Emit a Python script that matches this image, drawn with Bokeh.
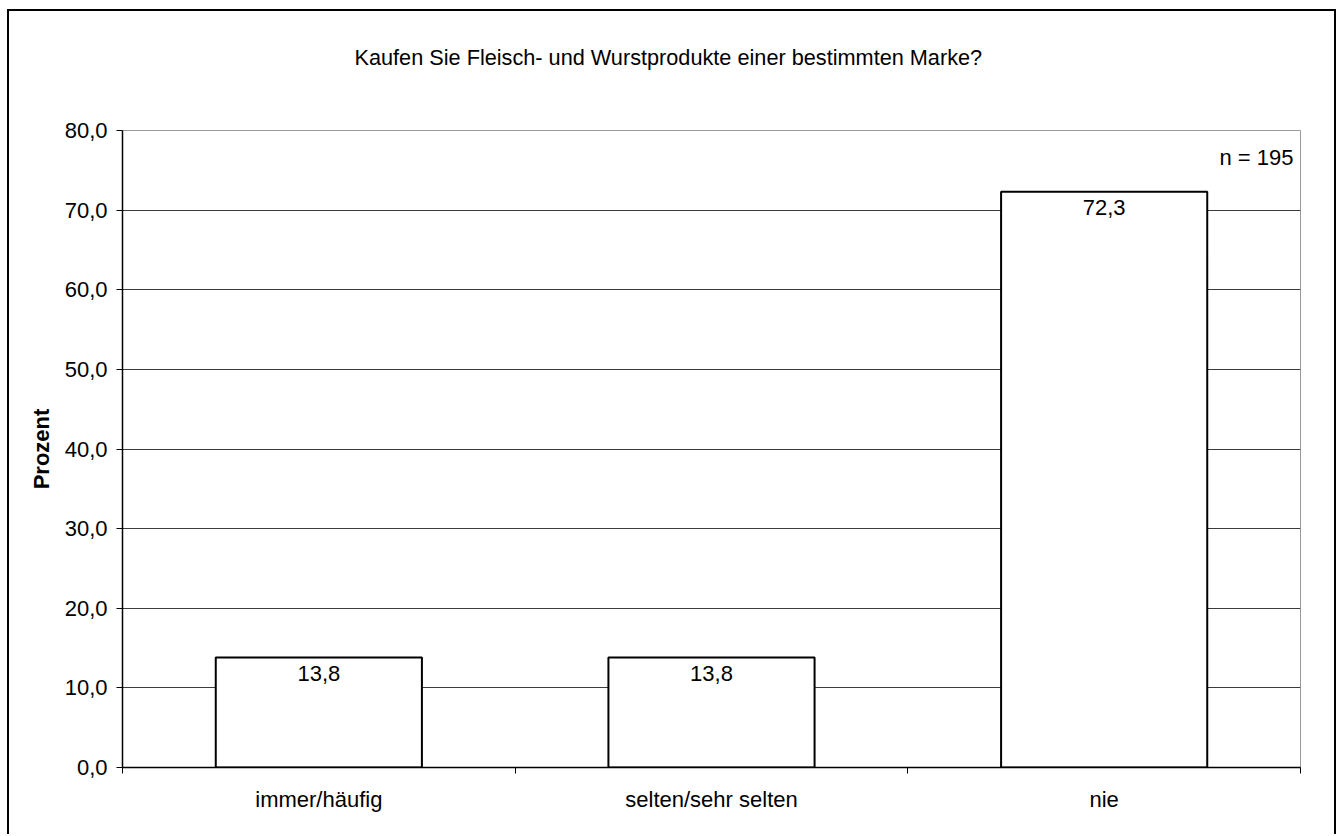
from bokeh.plotting import figure
from bokeh.models import (Range1d, FixedTicker, CustomJSTickFormatter, LabelSet, Label,
                          ColumnDataSource, Title)
from bokeh.core.properties import value
from bokeh.embed import file_html
from bokeh.resources import INLINE

# --- data -------------------------------------------------------------
title_text = "Kaufen Sie Fleisch- und Wurstprodukte einer bestimmten Marke?"
categories = ["immer/häufig", "selten/sehr selten", "nie"]
percent = [13.8, 13.8, 72.3]
y_ticks = [0, 10, 20, 30, 40, 50, 60, 70, 80]
y_label = "Prozent"
sample_note = "n = 195"

FONT = "Liberation Sans"
FS = "22px"

n = len(categories)
centers = [i + 0.5 for i in range(n)]
bounds = list(range(n + 1))
value_text = [f"{v:.1f}".replace(".", ",") for v in percent]

src = ColumnDataSource(dict(x=centers, value=percent, label=value_text, cat=categories))

# chart sits in a box framed on the left, top and right
p = figure(width=1329, height=825, output_backend="svg", toolbar_location=None,
           x_range=Range1d(0, n), y_range=Range1d(y_ticks[0], y_ticks[-1]),
           min_border_left=113, min_border_right=38, min_border_top=119, min_border_bottom=69,
           styles={"border-left": "2px solid black", "border-top": "2px solid black",
                   "border-right": "2px solid black",
                   "margin-left": "7px", "margin-top": "9px"})
p.background_fill_color = "white"
p.border_fill_color = "white"
p.outline_line_color = "#9a9a9a"
p.outline_line_width = 1

# title
p.title.text = title_text
p.title.align = "left"
p.title.offset = 232
p.title.standoff = 10
p.title.text_font = FONT
p.title.text_font_size = "21.7px"
p.title.text_font_style = "normal"
p.title.text_color = "black"

# blank band keeping the title well clear of the plot area
p.add_layout(Title(text=" ", text_font_size="1px", standoff=53), "above")

# bars
p.vbar(x="x", top="value", bottom=0, width=0.525, source=src,
       fill_color="white", line_color="black", line_width=2)

# value labels just inside the top of each bar
p.add_layout(LabelSet(x="x", y="value", text="label", source=src,
                      text_align="center", text_baseline="top", y_offset=-8,
                      text_font=value(FONT), text_font_size=value(FS), text_color="black"))

# grid
p.xgrid.visible = False
p.ygrid.ticker = FixedTicker(ticks=y_ticks)
p.ygrid.grid_line_color = "#3c3c3c"
p.ygrid.grid_line_width = 1
p.ygrid.level = "underlay"

# y axis
ya = p.yaxis[0]
ya.ticker = FixedTicker(ticks=y_ticks)
ya.formatter = CustomJSTickFormatter(code="return tick.toFixed(1).replace('.', ',')")
ya.major_tick_out = 6
ya.major_tick_in = 0
ya.minor_tick_out = 0
ya.minor_tick_in = 0
ya.axis_line_color = "black"
ya.axis_line_width = 1.5
ya.major_tick_line_color = "black"
ya.major_label_standoff = 9
ya.major_label_text_font = FONT
ya.major_label_text_font_size = FS
ya.major_label_text_color = "black"
ya.axis_label = y_label
ya.axis_label_text_font = FONT
ya.axis_label_text_font_size = FS
ya.axis_label_text_font_style = "bold"
ya.axis_label_text_color = "black"
ya.axis_label_standoff = 8

# x axis: category names centred, tick marks between categories
xa = p.xaxis[0]
xa.ticker = FixedTicker(ticks=centers, minor_ticks=bounds)
xa.formatter = CustomJSTickFormatter(args=dict(labels=categories),
                                     code="return labels[Math.floor(tick)]")
xa.major_tick_out = 0
xa.major_tick_in = 0
xa.minor_tick_out = 6
xa.minor_tick_in = 0
xa.minor_tick_line_color = "black"
xa.axis_line_color = "black"
xa.axis_line_width = 1.5
xa.major_label_standoff = 13
xa.major_label_text_font = FONT
xa.major_label_text_font_size = FS
xa.major_label_text_color = "black"

# sample size note
p.add_layout(Label(x=n, y=y_ticks[-1], x_offset=-7, y_offset=-14, text=sample_note,
                   text_align="right", text_baseline="top",
                   text_font=FONT, text_font_size=FS, text_color="black"))

open("out.html", "w").write(file_html(p, INLINE))
